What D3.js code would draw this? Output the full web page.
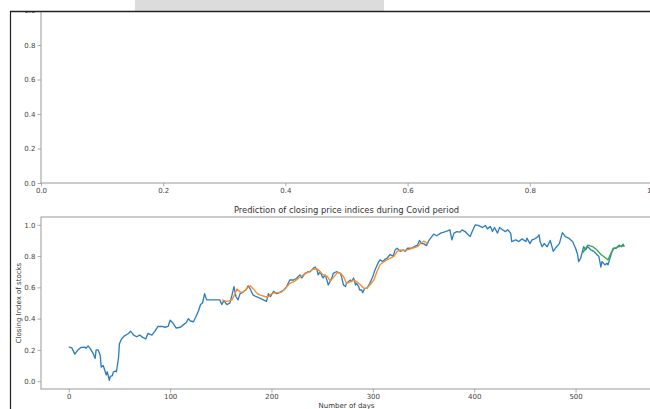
<!DOCTYPE html>
<html>
<head>
<meta charset="utf-8">
<script src="https://cdn.jsdelivr.net/npm/d3@7/dist/d3.min.js"></script>
<style>
  body { margin: 0; background: #fff; }
  svg { display: block; font-family: "DejaVu Sans", sans-serif; }
</style>
</head>
<body>
<svg id="chart" width="650" height="409"></svg>
<script>
// Normalised closing index, by trading day
const days = [0,3,6,9,12,16,17,19,21,24,26,27,29,31,32,34,36,37,38,40,41,43,44,46,47,49,50,52,55,59,61,64,67,70,73,76,78,82,85,88,92,95,98,100,103,106,110,113,116,118,120,123,126,128,130,132,134,136,139,142,146,149,151,153,156,159,161,163,165,167,169,172,175,177,179,182,185,189,192,195,197,199,202,205,208,212,215,218,222,225,228,230,233,236,238,241,243,245,246,248,250,251,253,255,256,258,260,261,264,268,269,271,273,274,276,278,279,281,283,284,286,287,289,290,292,294,297,300,302,305,307,310,312,314,317,320,322,324,327,330,332,334,338,341,344,346,348,350,353,355,357,360,363,367,370,373,376,378,380,383,386,388,391,394,396,398,401,404,408,411,413,416,418,420,423,425,428,431,433,436,437,441,444,447,451,452,455,457,459,462,464,465,467,469,472,475,478,480,484,487,490,493,497,500,502,503,505,508,510,512,515,518,521,523,525,526,529,531,532,535,537,540,543,545,547,548];
const closeIndex = [0.22,0.213,0.173,0.20,0.216,0.218,0.21,0.226,0.21,0.178,0.145,0.20,0.20,0.167,0.09,0.10,0.06,0.04,0.06,0.006,0.03,0.035,0.06,0.065,0.06,0.145,0.24,0.27,0.29,0.305,0.32,0.295,0.284,0.295,0.28,0.27,0.305,0.295,0.32,0.35,0.35,0.345,0.35,0.39,0.37,0.34,0.345,0.36,0.375,0.40,0.385,0.38,0.42,0.45,0.49,0.50,0.56,0.52,0.52,0.52,0.52,0.52,0.49,0.515,0.49,0.50,0.55,0.605,0.54,0.52,0.56,0.57,0.585,0.61,0.59,0.55,0.54,0.53,0.52,0.51,0.56,0.54,0.575,0.56,0.566,0.583,0.605,0.647,0.647,0.66,0.68,0.66,0.69,0.70,0.70,0.72,0.73,0.71,0.68,0.70,0.67,0.66,0.68,0.64,0.615,0.64,0.67,0.69,0.70,0.69,0.67,0.615,0.605,0.626,0.637,0.647,0.637,0.66,0.615,0.626,0.605,0.583,0.583,0.566,0.594,0.594,0.626,0.67,0.71,0.754,0.776,0.765,0.78,0.786,0.81,0.80,0.84,0.85,0.83,0.84,0.83,0.85,0.85,0.86,0.87,0.90,0.88,0.88,0.867,0.897,0.915,0.94,0.93,0.947,0.953,0.96,0.968,0.904,0.947,0.957,0.953,0.968,0.957,0.936,0.925,0.957,1.0,0.996,0.983,0.996,0.974,0.99,0.957,0.983,0.947,0.983,0.968,0.957,0.968,0.947,0.893,0.904,0.893,0.91,0.893,0.915,0.88,0.904,0.908,0.92,0.936,0.893,0.86,0.88,0.86,0.90,0.83,0.85,0.88,0.95,0.925,0.915,0.893,0.85,0.81,0.765,0.786,0.86,0.84,0.86,0.84,0.83,0.81,0.797,0.73,0.765,0.744,0.754,0.744,0.81,0.85,0.85,0.87,0.86,0.876,0.86];

// Model output on the training window
const trainDays = [151,156,161,164,166,169,172,176,179,182,186,189,194,197,200,205,210,214,218,223,228,233,237,241,245,248,251,255,258,262,265,268,271,274,278,281,284,288,291,294,297,301,304,307,311,314,317,321,324,327,330,334,339,344,347,350,352,354];
const trainPred = [0.52,0.51,0.52,0.56,0.59,0.57,0.57,0.594,0.61,0.59,0.56,0.55,0.54,0.54,0.56,0.566,0.57,0.594,0.626,0.64,0.665,0.686,0.70,0.716,0.72,0.70,0.68,0.67,0.64,0.67,0.694,0.69,0.67,0.626,0.637,0.647,0.637,0.615,0.594,0.594,0.615,0.647,0.70,0.744,0.765,0.776,0.786,0.80,0.83,0.84,0.835,0.84,0.85,0.86,0.88,0.895,0.89,0.875];

// Model output on the test window
const testDays = [507,510,512,517,521,525,530,532,535,538,543,548];
const testPred = [0.82,0.85,0.87,0.86,0.84,0.81,0.786,0.776,0.82,0.85,0.86,0.867];

const yTickValues = [0, 0.2, 0.4, 0.6, 0.8, 1.0];
const dayTickValues = [0, 100, 200, 300, 400, 500];
const topXTickValues = [0, 0.2, 0.4, 0.6, 0.8, 1.0];

const titleText = "Prediction of closing price indices during Covid period";
const xLabelText = "Number of days";
const yLabelText = "Closing Index of stocks";

const svg = d3.select("#chart");
const axLeft = 41, axRight = 652;
const tickColor = "#444", spineColor = "#999", labelColor = "#333";

function styleAxis(g) {
  g.select(".domain").remove();
  g.selectAll(".tick line").attr("stroke", spineColor).attr("stroke-width", 0.8);
  g.selectAll(".tick text").attr("fill", tickColor).attr("font-size", 7)
    .attr("font-family", "DejaVu Sans, sans-serif");
}

// ---- upper (empty) panel ----
const topY = d3.scaleLinear().domain([0, 1]).range([183, 10.5]);
const topX = d3.scaleLinear().domain([0, 1]).range([axLeft, axRight]);

svg.append("g").attr("transform", `translate(${axLeft},0)`)
  .call(d3.axisLeft(topY).tickValues(yTickValues).tickFormat(d3.format(".1f")).tickSize(3.5).tickPadding(2))
  .call(styleAxis);
svg.append("g").attr("transform", "translate(0,183)")
  .call(d3.axisBottom(topX).tickValues(topXTickValues).tickFormat(d3.format(".1f")).tickSize(3.5).tickPadding(2))
  .call(styleAxis);
svg.append("rect").attr("x", axLeft).attr("y", 10.5)
  .attr("width", axRight - axLeft).attr("height", 183 - 10.5)
  .attr("fill", "none").attr("stroke", spineColor).attr("stroke-width", 1);

// ---- lower panel: index and predictions ----
const y = d3.scaleLinear().domain([-0.05, 1.05]).range([389, 217]);
const x = d3.scaleLinear().domain([-27.4, 575.4]).range([axLeft, axRight]);

svg.append("g").attr("transform", `translate(${axLeft},0)`)
  .call(d3.axisLeft(y).tickValues(yTickValues).tickFormat(d3.format(".1f")).tickSize(3.5).tickPadding(2))
  .call(styleAxis);
svg.append("g").attr("transform", "translate(0,389)")
  .call(d3.axisBottom(x).tickValues(dayTickValues).tickFormat(d3.format("d")).tickSize(3.5).tickPadding(2))
  .call(styleAxis);

const line = d3.line().x(d => x(d[0])).y(d => y(d[1]));
const series = [
  { pts: d3.zip(days, closeIndex), color: "#2f7fbf" },
  { pts: d3.zip(trainDays, trainPred), color: "#ff8c26" },
  { pts: d3.zip(testDays, testPred), color: "#3aaa3a" }
];
svg.append("g").selectAll("path").data(series).join("path")
  .attr("d", d => line(d.pts))
  .attr("fill", "none")
  .attr("stroke", d => d.color)
  .attr("stroke-width", 1.35)
  .attr("stroke-linejoin", "round");

svg.append("rect").attr("x", axLeft).attr("y", 217)
  .attr("width", axRight - axLeft).attr("height", 389 - 217)
  .attr("fill", "none").attr("stroke", spineColor).attr("stroke-width", 1);

svg.append("text").attr("x", (axLeft + axRight) / 2).attr("y", 213)
  .attr("text-anchor", "middle").attr("font-size", 8.4).attr("fill", labelColor)
  .text(titleText);
svg.append("text").attr("x", (axLeft + axRight) / 2).attr("y", 407.5)
  .attr("text-anchor", "middle").attr("font-size", 7).attr("fill", labelColor)
  .text(xLabelText);
svg.append("text").attr("transform", `translate(21,303) rotate(-90)`)
  .attr("text-anchor", "middle").attr("font-size", 7).attr("fill", labelColor)
  .text(yLabelText);

// ---- output-area frame ----
svg.append("rect").attr("x", 0).attr("y", 0).attr("width", 650).attr("height", 11).attr("fill", "#fff");
svg.append("rect").attr("x", 135).attr("y", 0).attr("width", 249).attr("height", 11).attr("fill", "#dcdcdc");
svg.append("line").attr("x1", 10).attr("x2", 650).attr("y1", 11.5).attr("y2", 11.5)
  .attr("stroke", "#222").attr("stroke-width", 1.6);
svg.append("line").attr("x1", 10.5).attr("x2", 10.5).attr("y1", 11).attr("y2", 409)
  .attr("stroke", "#222").attr("stroke-width", 1.2);
</script>
</body>
</html>
